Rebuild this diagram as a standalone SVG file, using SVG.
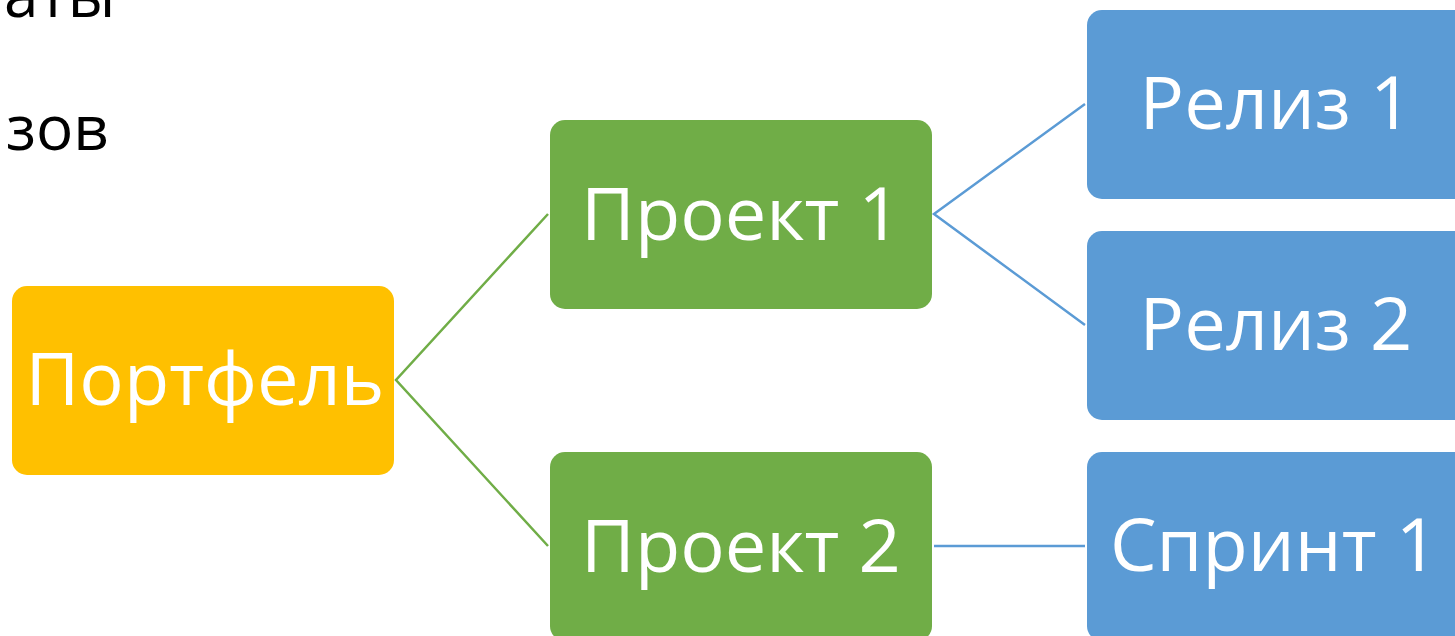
<svg xmlns="http://www.w3.org/2000/svg" width="1455" height="636" viewBox="0 0 1455 636">
<style>
.lbl{font-family:"Open Sans","Noto Sans",sans-serif;font-size:74px;fill:#fff;text-anchor:middle}
.bg{font-family:"Open Sans","Noto Sans",sans-serif;font-size:62px;fill:#000}
.g{stroke:#70AD47;stroke-width:2.5;fill:none}
.b{stroke:#5B9BD5;stroke-width:2.5;fill:none}
</style>
<rect width="1455" height="636" fill="#fff"/>
<text class="bg" x="4" y="17">аты</text>
<text class="bg" x="6" y="150">зов</text>
<g id="connectors">
<polyline class="g" points="548,214 396,380 548,546"/>
<polyline class="b" points="1085,104 934,214 1085,325"/>
<line class="b" x1="934" y1="546" x2="1085" y2="546"/>
</g>
<g id="portfel"><rect x="12" y="286" width="382" height="189" rx="15" fill="#FFC000"/><text class="lbl" x="205" y="405">Портфель</text></g>
<g id="proekt1"><rect x="550" y="120" width="382" height="189" rx="15" fill="#70AD47"/><text class="lbl" x="741" y="240">Проект 1</text></g>
<g id="proekt2"><rect x="550" y="452" width="382" height="189" rx="15" fill="#70AD47"/><text class="lbl" x="741" y="572">Проект 2</text></g>
<g id="reliz1"><rect x="1087" y="10" width="382" height="189" rx="15" fill="#5B9BD5"/><text class="lbl" x="1276" y="129">Релиз 1</text></g>
<g id="reliz2"><rect x="1087" y="231" width="382" height="189" rx="15" fill="#5B9BD5"/><text class="lbl" x="1276" y="350">Релиз 2</text></g>
<g id="sprint1"><rect x="1087" y="452" width="382" height="189" rx="15" fill="#5B9BD5"/><text class="lbl" x="1274" y="571">Спринт 1</text></g>
</svg>
